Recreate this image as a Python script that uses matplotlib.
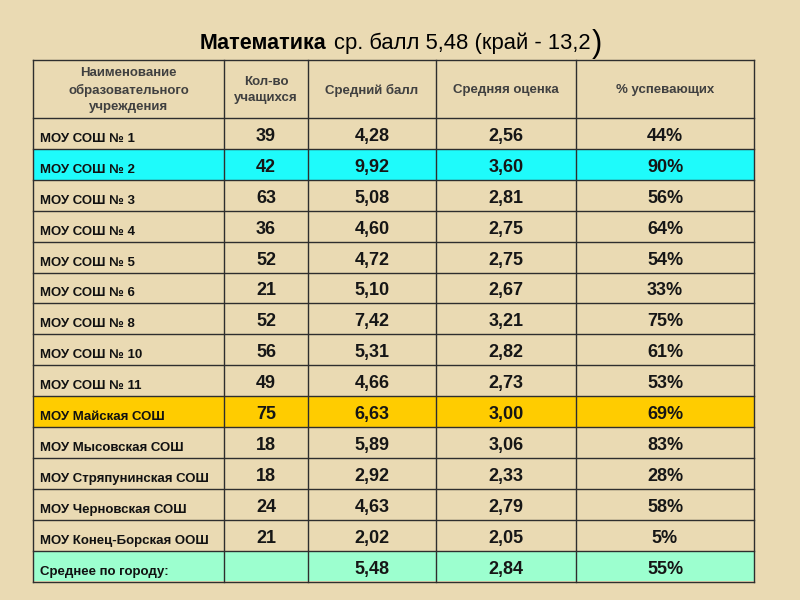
import matplotlib.pyplot as plt
from matplotlib.patches import Rectangle

# table data
headers = ['Наименование\nобразовательного\nучреждения', 'Кол-во\nучащихся',
           'Средний балл', 'Средняя оценка', '% успевающих']
schools = ['МОУ СОШ № 1', 'МОУ СОШ № 2', 'МОУ СОШ № 3', 'МОУ СОШ № 4', 'МОУ СОШ № 5',
           'МОУ СОШ № 6', 'МОУ СОШ № 8', 'МОУ СОШ № 10', 'МОУ СОШ № 11',
           'МОУ Майская СОШ', 'МОУ Мысовская СОШ', 'МОУ Стряпунинская СОШ',
           'МОУ Черновская СОШ', 'МОУ Конец-Борская ООШ']
students = [39, 42, 63, 36, 52, 21, 52, 56, 49, 75, 18, 18, 24, 21]
avg_score = [4.28, 9.92, 5.08, 4.60, 4.72, 5.10, 7.42, 5.31, 4.66, 6.63, 5.89, 2.92, 4.63, 2.02]
avg_grade = [2.56, 3.60, 2.81, 2.75, 2.75, 2.67, 3.21, 2.82, 2.73, 3.00, 3.06, 2.33, 2.79, 2.05]
pass_pct = [44, 90, 56, 64, 54, 33, 75, 61, 53, 69, 83, 28, 58, 5]
city_label = 'Среднее по городу:'
city_score, city_grade, city_pct = 5.48, 2.84, 55
highlight = {'МОУ СОШ № 2': '#1EFBFB', 'МОУ Майская СОШ': '#FFCC00'}

bg = '#EADAB3'
fig = plt.figure(figsize=(8, 6), dpi=100, facecolor=bg)
ax = fig.add_axes([0, 0, 1, 1])
ax.set_xlim(0, 800)
ax.set_ylim(600, 0)
ax.axis('off')

font = ['Liberation Sans', 'DejaVu Sans']

# title: bold part, regular part, then a bigger closing paren
t1 = ax.text(200, 49, 'Математика', fontsize=15.5, fontweight='bold', family=font,
             va='baseline', ha='left')
fig.canvas.draw()
r = fig.canvas.get_renderer()
bb = t1.get_window_extent(r)
t2 = ax.text(bb.x1 + 7, 600 - 49, 'ср. балл 5,48 (край - 13,2', fontsize=15.8,
             family=font, va='baseline', ha='left', transform=None)
bb2 = t2.get_window_extent(r)
ax.text(bb2.x1 + 1, 600 - 52, ')', fontsize=22, family=font, va='baseline',
        ha='left', transform=None)

# layout
col_edges = [33, 224, 308, 436, 576, 754]
top, head_bot, row_h = 60, 118, 30.9
n_rows = len(schools) + 1
bottom = head_bot + n_rows * row_h

# row fills
for i, name in enumerate(schools):
    if name in highlight:
        ax.add_patch(Rectangle((col_edges[0], head_bot + i * row_h),
                               col_edges[-1] - col_edges[0], row_h,
                               facecolor=highlight[name], edgecolor='none', zorder=1))
ax.add_patch(Rectangle((col_edges[0], head_bot + len(schools) * row_h),
                       col_edges[-1] - col_edges[0], row_h,
                       facecolor='#9CFFCF', edgecolor='none', zorder=1))

# grid lines
lc = '#2E2E2E'
for x in col_edges:
    ax.plot([x, x], [top, bottom], color=lc, lw=1.0, zorder=2)
ys = [top, head_bot] + [head_bot + k * row_h for k in range(1, n_rows + 1)]
for y in ys:
    ax.plot([col_edges[0], col_edges[-1]], [y, y], color=lc, lw=1.0, zorder=2)

# header text
for j, h in enumerate(headers):
    cx = (col_edges[j] + col_edges[j + 1]) / 2
    ax.text(cx, (top + head_bot) / 2 + 1, h, ha='center', va='center', fontsize=9.5,
            fontweight='bold', color='#404040', family=font, linespacing=1.45, zorder=3)


def fmt(v):
    return f'{v:.2f}'.replace('.', ',')


centers = [(col_edges[j] + col_edges[j + 1]) / 2 for j in range(len(col_edges) - 1)]
for i, name in enumerate(schools):
    cy = head_bot + (i + 0.5) * row_h
    ax.text(40, cy + 4, name, ha='left', va='center_baseline', fontsize=9.5,
            fontweight='bold', family=font, color='#111111', zorder=3)
    vals = [str(students[i]), fmt(avg_score[i]), fmt(avg_grade[i]), f'{pass_pct[i]}%']
    for j, v in enumerate(vals):
        ax.text(centers[j + 1], cy + 1, v, ha='center', va='center_baseline', fontsize=13,
                fontweight='bold', family=font, color='#161616', zorder=3)

cy = head_bot + (len(schools) + 0.5) * row_h
ax.text(40, cy + 4, city_label, ha='left', va='center_baseline', fontsize=9.5,
        fontweight='bold', family=font, color='#111111', zorder=3)
for j, v in enumerate([fmt(city_score), fmt(city_grade), f'{city_pct}%']):
    ax.text(centers[j + 2], cy + 1, v, ha='center', va='center_baseline', fontsize=13,
            fontweight='bold', family=font, color='#161616', zorder=3)

fig.savefig('out.png', dpi=100, facecolor=bg)
